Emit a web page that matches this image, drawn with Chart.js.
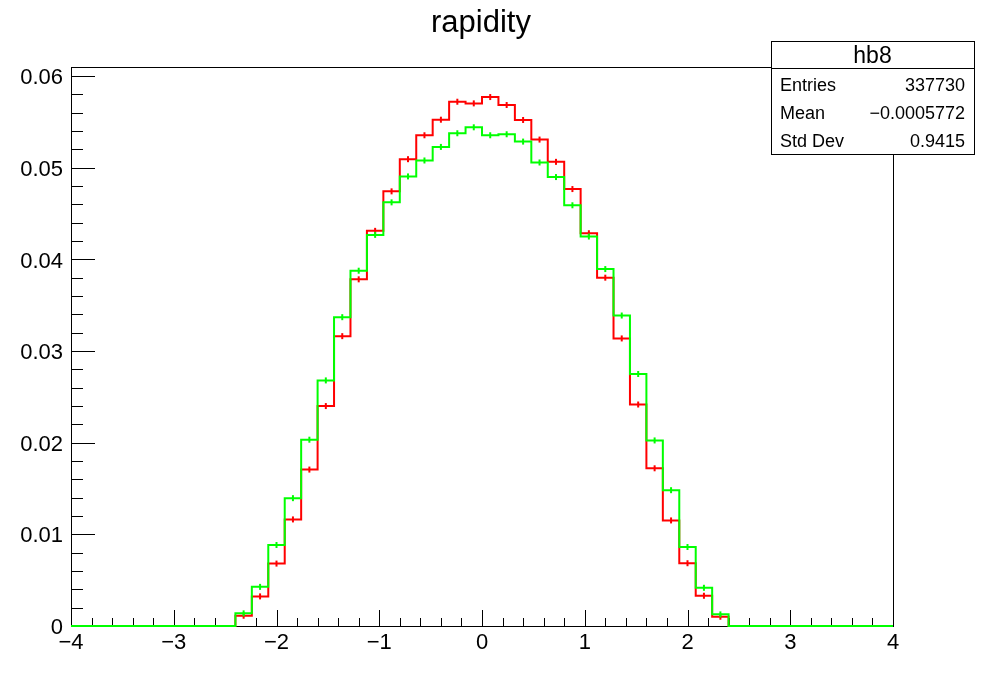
<!DOCTYPE html>
<html>
<head>
<meta charset="utf-8">
<script src="https://cdn.jsdelivr.net/npm/chart.js@4/dist/chart.umd.min.js"></script>
<style>
  body { margin: 0; background: #fff; }
  canvas { display: block; }
</style>
</head>
<body>
<canvas id="chart" width="983" height="694"></canvas>
<script>
// histogram: 50 bins from -4 to 4
const xMin = -4;
const xMax = 4;
const binWidth = 0.16;

const redValues = [
  0, 0, 0, 0, 0, 0, 0, 0, 0, 0,
  0.00112, 0.00323, 0.00681, 0.01163, 0.01707, 0.0240, 0.03163, 0.03783, 0.04312, 0.04743,
  0.05094, 0.05355, 0.05525, 0.05721, 0.05703, 0.05772, 0.05685, 0.05522, 0.05308, 0.05065,
  0.04768, 0.04286, 0.03801, 0.03138, 0.02417, 0.01721, 0.01152, 0.00685, 0.00330, 0.00101,
  0, 0, 0, 0, 0, 0, 0, 0, 0, 0,
];
const greenValues = [
  0, 0, 0, 0, 0, 0, 0, 0, 0, 0,
  0.00138, 0.00427, 0.00884, 0.01395, 0.02033, 0.0268, 0.03370, 0.03877, 0.04268, 0.04623,
  0.04906, 0.05080, 0.05228, 0.05377, 0.05442, 0.05355, 0.05366, 0.05286, 0.05058, 0.04899,
  0.04591, 0.04250, 0.03895, 0.03388, 0.0275, 0.02025, 0.01482, 0.00862, 0.00417, 0.00127,
  0, 0, 0, 0, 0, 0, 0, 0, 0, 0,
];

const xTicks = [-4, -3, -2, -1, 0, 1, 2, 3, 4];
const xTickLabels = ["\u22124", "\u22123", "\u22122", "\u22121", "0", "1", "2", "3", "4"];
const yTicks = [0, 0.01, 0.02, 0.03, 0.04, 0.05, 0.06];
const yTickLabels = ["0", "0.01", "0.02", "0.03", "0.04", "0.05", "0.06"];
const yMax = 0.061;

const title = "rapidity";
const statsName = "hb8";
const statsRows = [
  ["Entries", "337730"],
  ["Mean", "\u22120.0005772"],
  ["Std Dev", "0.9415"],
];

const FONT = "'Liberation Sans', Arial, Helvetica, sans-serif";

const stepData = (values) => {
  const pts = values.map((v, i) => ({ x: xMin + i * binWidth, y: v }));
  pts.push({ x: xMax, y: values[values.length - 1] });
  return pts;
};

const centerData = (values) =>
  values.map((v, i) => ({ x: xMin + (i + 0.5) * binWidth, y: v }));

const markerRadius = (ctx) => (ctx.raw && ctx.raw.y > 0 ? 3 : 0);

// ROOT style frame and inner ticks (under the histograms), title and stats box on top
const rootDecor = {
  id: "rootDecor",
  beforeDatasetsDraw(chart) {
    const { ctx, chartArea: a, scales } = chart;
    const xs = scales.x;
    const ys = scales.y;
    ctx.save();
    ctx.strokeStyle = "#000";
    ctx.lineWidth = 1;

    ctx.beginPath();
    for (let i = 0; i <= 40; i++) {
      const v = xMin + i * 0.2;
      const px = Math.round(xs.getPixelForValue(v)) + 0.5;
      const len = i % 5 === 0 ? 16 : 8;
      ctx.moveTo(px, a.bottom);
      ctx.lineTo(px, a.bottom - len);
    }
    for (let i = 0; i <= 30; i++) {
      const v = i * 0.002;
      const py = Math.round(ys.getPixelForValue(v)) + 0.5;
      const len = i % 5 === 0 ? 24 : 12;
      ctx.moveTo(a.left, py);
      ctx.lineTo(a.left + len, py);
    }
    ctx.stroke();

    ctx.strokeRect(Math.round(a.left) + 0.5, Math.round(a.top) + 0.5,
      Math.round(a.right - a.left), Math.round(a.bottom - a.top));
    ctx.restore();
  },
  afterDatasetsDraw(chart) {
    const { ctx } = chart;
    ctx.save();
    ctx.strokeStyle = "#000";
    ctx.lineWidth = 1;
    ctx.fillStyle = "#000";
    ctx.font = "31px " + FONT;
    ctx.textAlign = "center";
    ctx.textBaseline = "middle";
    ctx.fillText(title, 481, 23);

    // stats box
    const bx = 771, by = 41, bw = 203, bh = 113;
    ctx.fillStyle = "#fff";
    ctx.fillRect(bx, by, bw, bh);
    ctx.strokeRect(bx + 0.5, by + 0.5, bw, bh);
    ctx.beginPath();
    ctx.moveTo(bx, by + 27.5);
    ctx.lineTo(bx + bw, by + 27.5);
    ctx.stroke();
    ctx.fillStyle = "#000";
    ctx.font = "23px " + FONT;
    ctx.textAlign = "center";
    ctx.fillText(statsName, bx + bw / 2, by + 16);
    ctx.font = "18px " + FONT;
    statsRows.forEach((row, i) => {
      const y = by + 45 + i * 28;
      ctx.textAlign = "left";
      ctx.fillText(row[0], bx + 9, y);
      ctx.textAlign = "right";
      ctx.fillText(row[1], bx + bw - 9, y);
    });
    ctx.restore();
  },
};

const generateChart = () => {
  const ctx = document.getElementById("chart").getContext("2d");
  return new Chart(ctx, {
    type: "line",
    data: {
      datasets: [
        {
          data: centerData(greenValues),
          showLine: false,
          pointStyle: "line",
          rotation: 90,
          pointRadius: markerRadius,
          borderColor: "#00ff00",
          borderWidth: 2,
          order: 0,
        },
        {
          data: stepData(greenValues),
          stepped: "before",
          borderColor: "#00ff00",
          borderWidth: 2,
          pointRadius: 0,
          fill: false,
          clip: 2,
          order: 1,
        },
        {
          data: centerData(redValues),
          showLine: false,
          pointStyle: "line",
          rotation: 90,
          pointRadius: markerRadius,
          borderColor: "#ff0000",
          borderWidth: 2,
          order: 2,
        },
        {
          data: stepData(redValues),
          stepped: "before",
          borderColor: "#ff0000",
          borderWidth: 2,
          pointRadius: 0,
          fill: false,
          clip: 2,
          order: 3,
        },
      ],
    },
    options: {
      responsive: false,
      animation: false,
      layout: { padding: { left: 0, top: 67, right: 90, bottom: 0 } },
      plugins: {
        legend: { display: false },
        tooltip: { enabled: false },
        title: { display: false },
      },
      scales: {
        x: {
          type: "linear",
          min: xMin,
          max: xMax,
          afterBuildTicks: (scale) => {
            scale.ticks = xTicks.map((v) => ({ value: v }));
          },
          afterFit: (scale) => {
            scale.height = 68;
          },
          grid: { display: false, drawTicks: false },
          border: { display: false },
          ticks: {
            padding: 4,
            maxRotation: 0,
            autoSkip: false,
            color: "#000",
            font: { family: FONT, size: 22 },
            callback: (v) => xTickLabels[xTicks.indexOf(v)],
          },
        },
        y: {
          type: "linear",
          min: 0,
          max: yMax,
          afterBuildTicks: (scale) => {
            scale.ticks = yTicks.map((v) => ({ value: v }));
          },
          afterFit: (scale) => {
            scale.width = 71;
          },
          grid: { display: false, drawTicks: false },
          border: { display: false },
          ticks: {
            padding: 8,
            labelOffset: 2,
            autoSkip: false,
            color: "#000",
            font: { family: FONT, size: 22 },
            callback: (v) => yTickLabels[yTicks.indexOf(v)],
          },
        },
      },
    },
    plugins: [rootDecor],
  });
};

generateChart();
</script>
</body>
</html>
